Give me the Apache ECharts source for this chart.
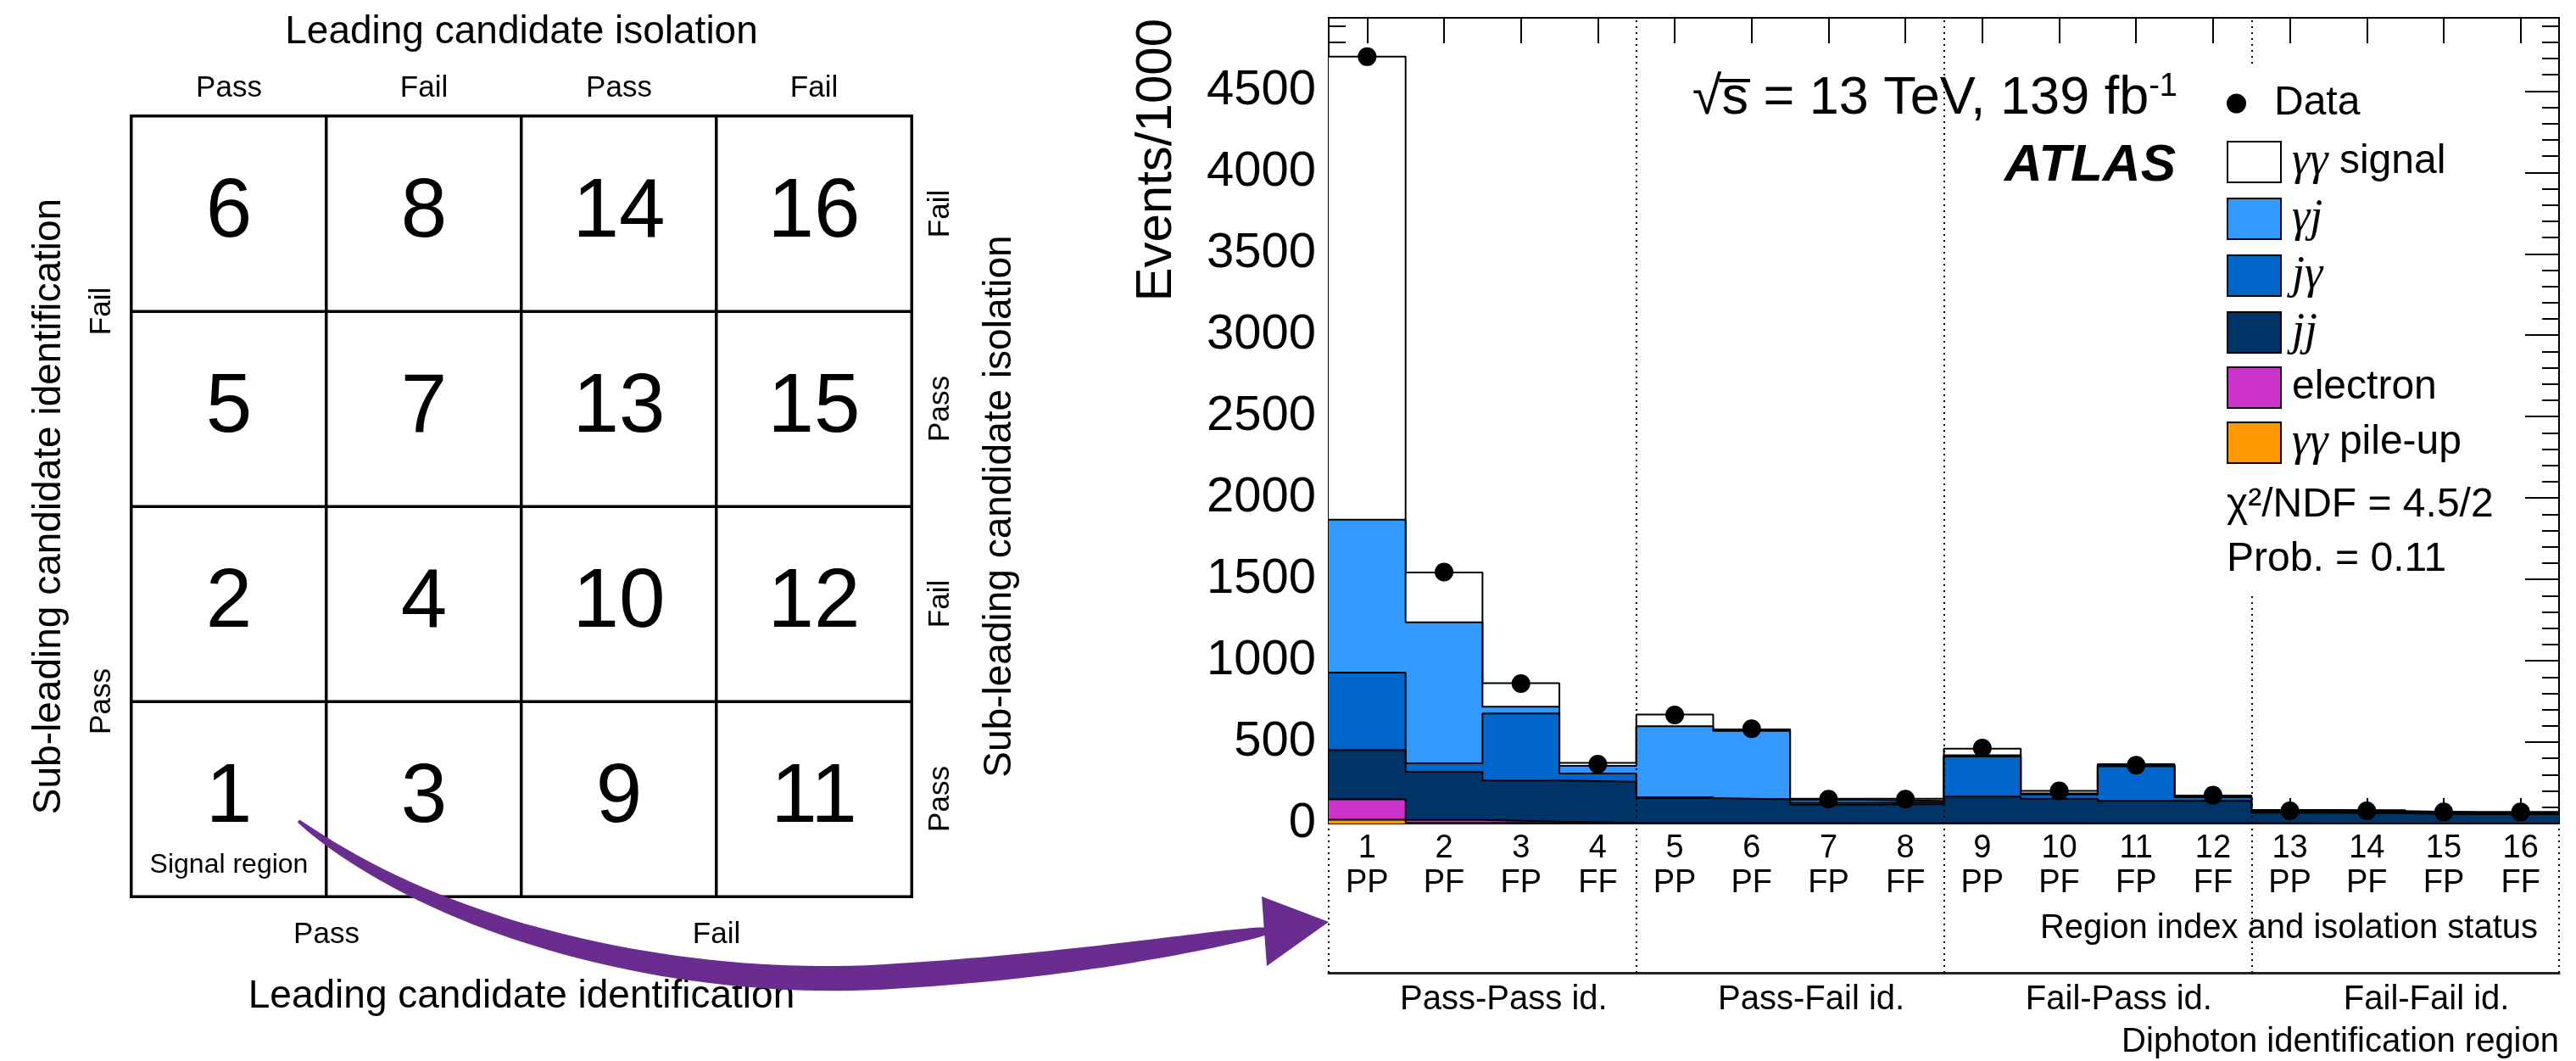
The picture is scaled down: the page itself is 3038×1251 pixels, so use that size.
<!DOCTYPE html>
<html>
<head>
<meta charset="utf-8">
<script src="https://cdn.jsdelivr.net/npm/echarts@6/dist/echarts.min.js"></script>
<style>
  html, body { margin: 0; padding: 0; background: #ffffff; }
  #chart { width: 3038px; height: 1251px; }
</style>
</head>
<body>
<div id="chart"></div>
<script>
// ---- Region definitions -------------------------------------------------
const regionIndex = ['1','2','3','4','5','6','7','8','9','10','11','12','13','14','15','16'];
const isolationStatus = ['PP','PF','FP','FF','PP','PF','FP','FF','PP','PF','FP','FF','PP','PF','FP','FF'];
const idGroups = ['Pass-Pass id.', 'Pass-Fail id.', 'Fail-Pass id.', 'Fail-Fail id.'];

// ---- Yields per region (Events/1000), one array per fitted component ----
const pileup   = [24, 5, 2, 1, 1, 0, 0, 0, 0, 0, 0, 0, 0, 0, 0, 0];
const electron = [124, 17, 10, 3, 2, 2, 1, 1, 2, 1, 1, 1, 0, 0, 0, 0];
const jj       = [304, 296, 252, 252, 153, 146, 115, 119, 164, 151, 139, 139, 66, 63, 57, 57];
const jgamma   = [475, 52, 412, 52, 6, 3, 12, 10, 246, 26, 212, 21, 8, 9, 7, 7];
const gammaj   = [940, 866, 42, 46, 436, 418, 17, 10, 8, 7, 4, 4, 5, 5, 4, 4];
const signal   = [2844, 306, 144, 18, 72, 9, 7, 12, 40, 15, 9, 7, 4, 5, 3, 3];
const observed = [4711, 1545, 860, 365, 667, 582, 150, 150, 464, 200, 358, 174, 78, 78, 71, 71];

// ---- Region map: rows from bottom (sub-leading), columns (leading) -------
const regionRows = [
  [1, 3, 9, 11],
  [2, 4, 10, 12],
  [5, 7, 13, 15],
  [6, 8, 14, 16]
];
const leadingIso     = ['Pass', 'Fail', 'Pass', 'Fail'];
const leadingId      = ['Pass', 'Fail'];
const subleadingId   = ['Pass', 'Fail'];
const subleadingIso  = ['Pass', 'Fail', 'Pass', 'Fail'];
const signalRegion = 1;
const signalRegionLabel = 'Signal region';

// ---- Annotations --------------------------------------------------------
const energyLumi = ['√s̅ = 13 TeV, 139 fb', '-1'];
const experiment = 'ATLAS';
const fitSummary = ['χ²/NDF = 4.5/2', 'Prob. = 0.11'];

const FONT = '"Liberation Sans", Arial, Helvetica, sans-serif';
const SERIF = '"Liberation Serif", "Times New Roman", serif';

// Stack order from the bottom up
const components = [
  { name: 'γγ pile-up', values: pileup,   color: '#ff9900' },
  { name: 'electron',   values: electron, color: '#cc33cc' },
  { name: 'jj',         values: jj,       color: '#003366' },
  { name: 'jγ',         values: jgamma,   color: '#0066cc' },
  { name: 'γj',         values: gammaj,   color: '#3399ff' },
  { name: 'γγ signal',  values: signal,   color: '#ffffff' }
];

// Running sums: each layer is drawn as the top edge of everything below it
const cumulative = [];
components.forEach((c, k) => {
  cumulative.push(c.values.map((v, i) => v + (k > 0 ? cumulative[k - 1][i] : 0)));
});

// Histogram bin edges: one point per left edge plus the closing right edge
const histPoints = vals => vals.map((v, i) => [i + 0.5, v])
  .concat([[vals.length + 0.5, vals[vals.length - 1]]]);

const nBins = regionIndex.length;
const perGroup = nBins / idGroups.length;
const innerBoundaries = idGroups.slice(1).map((_, k) => (k + 1) * perGroup + 0.5);
const allBoundaries = [0.5].concat(innerBoundaries, [nBins + 0.5]);

// Lower layers sit above the upper ones so every outline stays visible
const stackSeries = components.map((c, k) => ({
  type: 'line',
  name: c.name,
  xAxisIndex: 0,
  yAxisIndex: 0,
  step: 'end',
  data: histPoints(cumulative[k]),
  symbol: 'none',
  showSymbol: false,
  silent: true,
  z: 10 - k,
  lineStyle: { color: '#000', width: 2 },
  areaStyle: { color: c.color, opacity: 1, origin: 'start' },
  itemStyle: { color: c.color },
  emphasis: { disabled: true }
}));

const dotted = { color: '#000', type: [2, 5], width: 2 };

// ---- Arrow from the signal cell towards the histogram -------------------
function cubicAt(p, t) {
  const u = 1 - t;
  return [0, 1].map(d => u*u*u*p[0][d] + 3*u*u*t*p[1][d] + 3*u*t*t*p[2][d] + t*t*t*p[3][d]);
}
const arrowPath = [
  [[352, 968], [520, 1100], [800, 1165], [1040, 1152]],
  [[1040, 1152], [1250, 1140], [1400, 1113], [1492, 1098]]
];
const centre = [];
arrowPath.forEach((seg, si) => {
  for (let k = (si === 0 ? 0 : 1); k <= 40; k++) centre.push(cubicAt(seg, k / 40));
});
const upper = [], lower = [];
centre.forEach((c, i) => {
  const a = centre[Math.max(0, i - 1)], b = centre[Math.min(centre.length - 1, i + 1)];
  const dx = b[0] - a[0], dy = b[1] - a[1], len = Math.hypot(dx, dy) || 1;
  const nx = -dy / len, ny = dx / len;
  const s = i / (centre.length - 1);
  const w = 4 + 23 * Math.pow(Math.sin(Math.PI * s), 0.7) + 5 * s;
  upper.push([c[0] + nx * w / 2, c[1] + ny * w / 2]);
  lower.push([c[0] - nx * w / 2, c[1] - ny * w / 2]);
});
const arrowBody = upper.concat(lower.reverse());
const arrowHead = [[1488, 1057], [1567, 1087], [1494, 1139]];

const chart = echarts.init(document.getElementById('chart'), null, { renderer: 'canvas' });

const option = {
  backgroundColor: '#ffffff',
  animation: false,
  textStyle: { fontFamily: FONT, color: '#000' },
  grid: [
    { left: 1567, top: 21, width: 1451, height: 950 },     // histogram
    { left: 1567, top: 971, width: 1451, height: 176 },    // identification groups
    { left: 155, top: 137, width: 920, height: 920 }       // region map
  ],
  xAxis: [
    { type: 'value', gridIndex: 0, min: 0.5, max: nBins + 0.5, show: false },
    {
      type: 'category', gridIndex: 0, position: 'bottom',
      data: regionIndex.map((n, i) => n + '\n' + isolationStatus[i]),
      axisLine: { show: true, lineStyle: { color: '#000', width: 2 } },
      axisTick: { show: true, inside: true, alignWithLabel: true, length: 30, lineStyle: { color: '#000', width: 2 } },
      axisLabel: { interval: 0, fontSize: 38, lineHeight: 41, margin: 9, color: '#000', fontFamily: FONT },
      splitLine: { show: false },
      name: 'Region index and isolation status',
      nameLocation: 'end', nameGap: -25, nameMoveOverlap: false,
      nameTextStyle: { fontSize: 40, color: '#000', fontFamily: FONT, align: 'right', verticalAlign: 'top', padding: [104, 0, 0, 0] }
    },
    {
      type: 'category', gridIndex: 0, position: 'top',
      data: regionIndex,
      axisLine: { show: true, lineStyle: { color: '#000', width: 2 } },
      axisTick: { show: true, inside: true, alignWithLabel: true, length: 30, lineStyle: { color: '#000', width: 2 } },
      axisLabel: { show: false },
      splitLine: { show: false }
    },
    {
      type: 'category', gridIndex: 1, position: 'bottom',
      data: idGroups,
      axisLine: { show: true, lineStyle: { color: '#222', width: 3 } },
      axisTick: { show: false },
      axisLabel: { interval: 0, fontSize: 40, margin: 12, color: '#000', fontFamily: FONT, padding: [0, 0, 0, 50] },
      name: 'Diphoton identification region',
      nameLocation: 'end', nameGap: 0, nameMoveOverlap: false,
      nameTextStyle: { fontSize: 40, color: '#000', fontFamily: FONT, align: 'right', verticalAlign: 'top', padding: [62, 0, 0, 0] }
    },
    { type: 'value', gridIndex: 1, min: 0.5, max: nBins + 0.5, show: false },
    {
      type: 'category', gridIndex: 2, position: 'top',
      data: leadingIso,
      axisLine: { show: false }, axisTick: { show: false }, splitLine: { show: false },
      axisLabel: { fontSize: 35, margin: 15, color: '#000', fontFamily: FONT },
      name: 'Leading candidate isolation', nameLocation: 'middle', nameGap: 76, nameMoveOverlap: false,
      nameTextStyle: { fontSize: 46, color: '#000', fontFamily: FONT }
    },
    {
      type: 'category', gridIndex: 2, position: 'bottom',
      data: leadingId,
      axisLine: { show: false }, axisTick: { show: false }, splitLine: { show: false },
      axisLabel: { fontSize: 35, margin: 28, color: '#000', fontFamily: FONT },
      name: 'Leading candidate identification', nameLocation: 'middle', nameGap: 95, nameMoveOverlap: false,
      nameTextStyle: { fontSize: 46, color: '#000', fontFamily: FONT }
    }
  ],
  yAxis: [
    {
      type: 'value', gridIndex: 0, position: 'left', min: 0, max: 4950, interval: 500,
      axisLine: { show: true, lineStyle: { color: '#000', width: 2 } },
      axisTick: { show: true, inside: true, length: 40, lineStyle: { color: '#000', width: 2 } },
      minorTick: { show: true, splitNumber: 5, length: 20, lineStyle: { color: '#000', width: 2 } },
      axisLabel: { fontSize: 58, margin: 15, color: '#000', fontFamily: FONT, showMaxLabel: false, formatter: v => String(v) },
      splitLine: { show: false }
    },
    {
      type: 'value', gridIndex: 0, position: 'right', min: 0, max: 4950, interval: 500,
      axisLine: { show: true, lineStyle: { color: '#000', width: 2 } },
      axisTick: { show: true, inside: true, length: 40, lineStyle: { color: '#000', width: 2 } },
      minorTick: { show: true, splitNumber: 5, length: 20, lineStyle: { color: '#000', width: 2 } },
      axisLabel: { show: false },
      splitLine: { show: false }
    },
    { type: 'value', gridIndex: 1, min: 0, max: 1, show: false },
    {
      type: 'category', gridIndex: 2, position: 'left',
      data: subleadingId,
      axisLine: { show: false }, axisTick: { show: false }, splitLine: { show: false },
      axisLabel: { rotate: 90, fontSize: 35, margin: 17, color: '#000', fontFamily: FONT },
      name: 'Sub-leading candidate identification', nameLocation: 'middle', nameGap: 74, nameRotate: 90, nameMoveOverlap: false,
      nameTextStyle: { fontSize: 46, color: '#000', fontFamily: FONT }
    },
    {
      type: 'category', gridIndex: 2, position: 'right',
      data: subleadingIso,
      axisLine: { show: false }, axisTick: { show: false }, splitLine: { show: false },
      axisLabel: { rotate: 90, fontSize: 35, margin: 17, color: '#000', fontFamily: FONT },
      name: 'Sub-leading candidate isolation', nameLocation: 'middle', nameGap: 81, nameRotate: 90, nameMoveOverlap: false,
      nameTextStyle: { fontSize: 46, color: '#000', fontFamily: FONT }
    }
  ],
  legend: [
    {
      data: [{ name: 'Data', itemStyle: { color: '#000', opacity: 1 } }],
      orient: 'vertical', left: 2621, top: 80,
      icon: 'circle', itemWidth: 63, itemHeight: 23,
      padding: [18, 5, 16, 5], backgroundColor: '#ffffff',
      selectedMode: false, z: 40,
      itemStyle: { borderWidth: 0, opacity: 1 },
      textStyle: { fontSize: 48, lineHeight: 48, color: '#000', fontFamily: FONT, padding: [0, 0, 0, 8] }
    },
    {
      data: components.slice().reverse().map(c => ({ name: c.name, icon: 'rect', itemStyle: { color: c.color } })),
      orient: 'vertical', left: 2621, top: 148,
      itemWidth: 63, itemHeight: 48, itemGap: 13,
      padding: [16, 5, 16, 5], backgroundColor: '#ffffff',
      selectedMode: false, z: 40,
      itemStyle: { borderColor: '#000', borderWidth: 2 },
      formatter: name => name.replace(/^([γj]+)/, '{g|$1}'),
      textStyle: {
        fontSize: 48, lineHeight: 48, color: '#000', fontFamily: FONT, padding: [0, 0, 0, 8],
        rich: { g: { fontSize: 54, lineHeight: 48, fontStyle: 'italic', fontFamily: SERIF, color: '#000' } }
      }
    }
  ],
  graphic: [
    {
      type: 'text', x: 1364, y: 22, rotation: Math.PI / 2, z: 50,
      style: { text: 'Events/1000', fontSize: 60, fontFamily: FONT, fill: '#000', align: 'right', verticalAlign: 'middle' }
    },
    {
      type: 'text', x: 2568, y: 117, z: 50,
      style: {
        text: '{m|' + energyLumi[0] + '}{sup|' + energyLumi[1] + '}',
        align: 'right', verticalAlign: 'middle',
        rich: {
          m: { fontSize: 63, fontFamily: FONT, fill: '#000', lineHeight: 66 },
          sup: { fontSize: 38, fontFamily: FONT, fill: '#000', verticalAlign: 'top', lineHeight: 38 }
        }
      }
    },
    {
      type: 'text', x: 2566, y: 196, z: 50,
      style: { text: experiment, fontSize: 62, fontWeight: 'bold', fontStyle: 'italic', fontFamily: FONT, fill: '#000', align: 'right', verticalAlign: 'middle' }
    },
    {
      type: 'text', x: 2622, y: 558, z: 50,
      style: {
        text: fitSummary.join('\n'), fontSize: 48, lineHeight: 64, fontFamily: FONT, fill: '#000',
        align: 'left', verticalAlign: 'top', backgroundColor: '#ffffff', padding: [6, 4, 6, 4]
      }
    },
    { type: 'polygon', z: 60, shape: { points: arrowBody }, style: { fill: '#6a2c8f' } },
    { type: 'polygon', z: 60, shape: { points: arrowHead }, style: { fill: '#6a2c8f' } }
  ],
  series: stackSeries.concat([
    {
      type: 'scatter', name: 'Data', xAxisIndex: 0, yAxisIndex: 0,
      data: observed.map((v, i) => [i + 1, v]),
      symbol: 'circle', symbolSize: 22, z: 20, silent: true,
      itemStyle: { color: '#000', opacity: 1 },
      emphasis: { disabled: true },
      markLine: {
        silent: true, symbol: 'none', z: 30, animation: false,
        label: { show: false }, lineStyle: dotted,
        data: innerBoundaries.map(x => ({ xAxis: x }))
      }
    },
    {
      type: 'scatter', name: 'group boundaries', xAxisIndex: 4, yAxisIndex: 2,
      data: [], silent: true,
      markLine: {
        silent: true, symbol: 'none', z: 30, animation: false,
        label: { show: false }, lineStyle: dotted,
        data: allBoundaries.map(x => ({ xAxis: x }))
      }
    },
    {
      type: 'heatmap', name: 'regions', xAxisIndex: 5, yAxisIndex: 4,
      data: regionRows.flatMap((row, r) => row.map((n, c) => [c, r, n])),
      silent: true,
      itemStyle: { color: '#ffffff', borderColor: '#000', borderWidth: 3.5 },
      emphasis: { disabled: true },
      label: {
        show: true, color: '#000', fontFamily: FONT,
        formatter: p => p.value[2] === signalRegion
          ? '{sp| }\n{n|' + p.value[2] + '}\n{s|' + signalRegionLabel + '}'
          : '{n|' + p.value[2] + '}',
        rich: {
          n: { fontSize: 98, lineHeight: 100, color: '#000', fontFamily: FONT },
          s: { fontSize: 32, lineHeight: 56, color: '#000', fontFamily: FONT },
          sp: { fontSize: 32, lineHeight: 56 }
        }
      }
    }
  ])
};

chart.setOption(option);
</script>
</body>
</html>
